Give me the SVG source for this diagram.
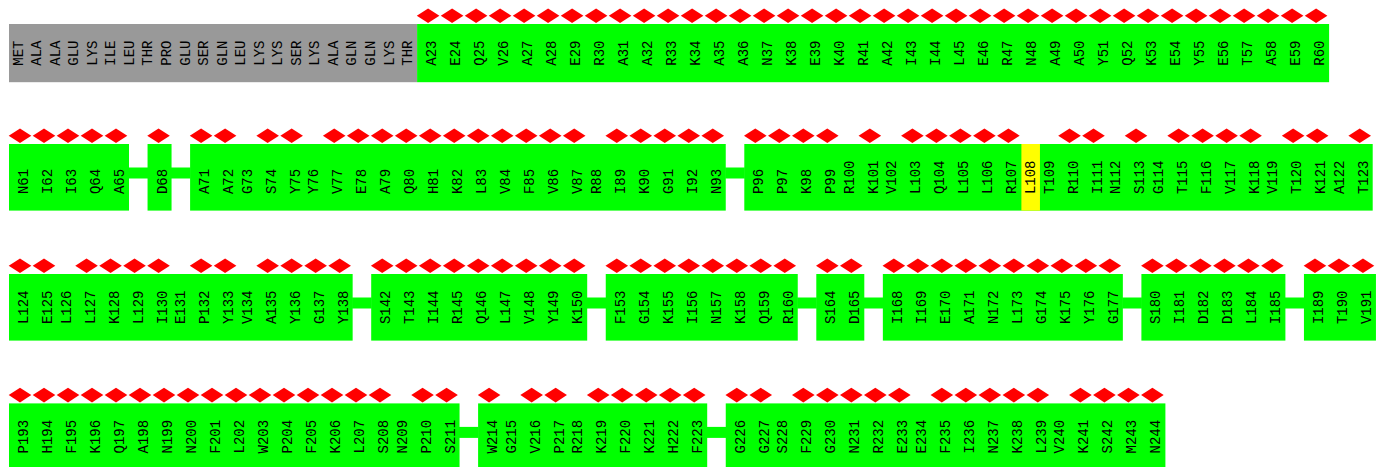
<svg xmlns="http://www.w3.org/2000/svg" xmlns:xlink="http://www.w3.org/1999/xlink" width="1376" height="467" viewBox="0 0 1376 467">
<style>
.lbl{font-family:"Liberation Mono","Courier New",monospace;font-size:14px;fill:#000}
.gry{fill:#999999}.grn{fill:#00ff00}.yel{fill:#ffff00}.bar{fill:#00ff00}
</style>
<defs>
<path id="dm" d="M-11.3 0L0-7.3L11.3 0L0 7.3Z" fill="#ff0000"/>
</defs>
<rect width="1376" height="467" fill="#fff"/>

<g id="connectors">
<rect class="bar" x="128.5" y="167.5" width="19.6" height="11"/>
<rect class="bar" x="171" y="167.5" width="19.6" height="11"/>
<rect class="bar" x="725.2" y="167.5" width="19.6" height="11"/>
<rect class="bar" x="352.1" y="297.5" width="19.6" height="11"/>
<rect class="bar" x="586.7" y="297.5" width="19.6" height="11"/>
<rect class="bar" x="797.2" y="297.5" width="19.6" height="11"/>
<rect class="bar" x="863.8" y="297.5" width="19.6" height="11"/>
<rect class="bar" x="1122.3" y="297.5" width="19.6" height="11"/>
<rect class="bar" x="1284.9" y="297.5" width="19.6" height="11"/>
<rect class="bar" x="459" y="426.9" width="19.6" height="11"/>
<rect class="bar" x="706.7" y="426.9" width="19.6" height="11"/>
</g>

<g id="seg-unmodelled-1-22">
<rect class="gry" x="9" y="24" width="408.1" height="58.2"/>
<g transform="rotate(-90)" class="lbl">
<text x="-65.7" y="22.55">MET</text><text x="-65.7" y="41.1">ALA</text><text x="-65.7" y="59.65">ALA</text><text x="-65.7" y="78.2">GLU</text><text x="-65.7" y="96.75">LYS</text><text x="-65.7" y="115.3">ILE</text><text x="-65.7" y="133.85">LEU</text><text x="-65.7" y="152.4">THR</text><text x="-65.7" y="170.95">PRO</text><text x="-65.7" y="189.5">GLU</text><text x="-65.7" y="208.05">SER</text><text x="-65.7" y="226.6">GLN</text><text x="-65.7" y="245.15">LEU</text><text x="-65.7" y="263.7">LYS</text><text x="-65.7" y="282.25">LYS</text><text x="-65.7" y="300.8">SER</text><text x="-65.7" y="319.35">LYS</text><text x="-65.7" y="337.9">ALA</text><text x="-65.7" y="356.45">GLN</text><text x="-65.7" y="375">GLN</text><text x="-65.7" y="393.55">LYS</text><text x="-65.7" y="412.1">THR</text>
</g>
</g>

<g id="seg-23-60">
<rect class="grn" x="417.1" y="24" width="912" height="58.2"/>
<g transform="rotate(-90)" class="lbl">
<text x="-65.7" y="436.1">A23</text><text x="-65.7" y="460.1">E24</text><text x="-65.7" y="484.1">Q25</text><text x="-65.7" y="508.1">V26</text><text x="-65.7" y="532.1">A27</text><text x="-65.7" y="556.1">A28</text><text x="-65.7" y="580.1">E29</text><text x="-65.7" y="604.1">R30</text><text x="-65.7" y="628.1">A31</text><text x="-65.7" y="652.1">A32</text><text x="-65.7" y="676.1">R33</text><text x="-65.7" y="700.1">K34</text><text x="-65.7" y="724.1">A35</text><text x="-65.7" y="748.1">A36</text><text x="-65.7" y="772.1">N37</text><text x="-65.7" y="796.1">K38</text><text x="-65.7" y="820.1">E39</text><text x="-65.7" y="844.1">K40</text><text x="-65.7" y="868.1">R41</text><text x="-65.7" y="892.1">A42</text><text x="-65.7" y="916.1">I43</text><text x="-65.7" y="940.1">I44</text><text x="-65.7" y="964.1">L45</text><text x="-65.7" y="988.1">E46</text><text x="-65.7" y="1012.1">R47</text><text x="-65.7" y="1036.1">N48</text><text x="-65.7" y="1060.1">A49</text><text x="-65.7" y="1084.1">A50</text><text x="-65.7" y="1108.1">Y51</text><text x="-65.7" y="1132.1">Q52</text><text x="-65.7" y="1156.1">K53</text><text x="-65.7" y="1180.1">E54</text><text x="-65.7" y="1204.1">Y55</text><text x="-65.7" y="1228.1">E56</text><text x="-65.7" y="1252.1">T57</text><text x="-65.7" y="1276.1">A58</text><text x="-65.7" y="1300.1">E59</text><text x="-65.7" y="1324.1">R60</text>
</g>
<use href="#dm" x="428.1" y="15.7"/><use href="#dm" x="452.1" y="15.7"/><use href="#dm" x="476.1" y="15.7"/><use href="#dm" x="500.1" y="15.7"/><use href="#dm" x="524.1" y="15.7"/><use href="#dm" x="548.1" y="15.7"/><use href="#dm" x="572.1" y="15.7"/><use href="#dm" x="596.1" y="15.7"/><use href="#dm" x="620.1" y="15.7"/><use href="#dm" x="644.1" y="15.7"/><use href="#dm" x="668.1" y="15.7"/><use href="#dm" x="692.1" y="15.7"/><use href="#dm" x="716.1" y="15.7"/><use href="#dm" x="740.1" y="15.7"/><use href="#dm" x="764.1" y="15.7"/><use href="#dm" x="788.1" y="15.7"/><use href="#dm" x="812.1" y="15.7"/><use href="#dm" x="836.1" y="15.7"/><use href="#dm" x="860.1" y="15.7"/><use href="#dm" x="884.1" y="15.7"/><use href="#dm" x="908.1" y="15.7"/><use href="#dm" x="932.1" y="15.7"/><use href="#dm" x="956.1" y="15.7"/><use href="#dm" x="980.1" y="15.7"/><use href="#dm" x="1004.1" y="15.7"/><use href="#dm" x="1028.1" y="15.7"/><use href="#dm" x="1052.1" y="15.7"/><use href="#dm" x="1076.1" y="15.7"/><use href="#dm" x="1100.1" y="15.7"/><use href="#dm" x="1124.1" y="15.7"/><use href="#dm" x="1148.1" y="15.7"/><use href="#dm" x="1172.1" y="15.7"/><use href="#dm" x="1196.1" y="15.7"/><use href="#dm" x="1220.1" y="15.7"/><use href="#dm" x="1244.1" y="15.7"/><use href="#dm" x="1268.1" y="15.7"/><use href="#dm" x="1292.1" y="15.7"/><use href="#dm" x="1316.1" y="15.7"/>
</g>

<g id="seg-61-65">
<rect class="grn" x="9" y="144" width="120" height="66.6"/>
<g transform="rotate(-90)" class="lbl">
<text x="-194.1" y="28">N61</text><text x="-194.1" y="52">I62</text><text x="-194.1" y="76">I63</text><text x="-194.1" y="100">Q64</text><text x="-194.1" y="124">A65</text>
</g>
<use href="#dm" x="20" y="135.7"/><use href="#dm" x="44" y="135.7"/><use href="#dm" x="68" y="135.7"/><use href="#dm" x="92" y="135.7"/><use href="#dm" x="116" y="135.7"/>
</g>

<g id="seg-68">
<rect class="grn" x="147.55" y="144" width="24" height="66.6"/>
<g transform="rotate(-90)" class="lbl"><text x="-194.1" y="166.55">D68</text></g>
<use href="#dm" x="158.55" y="135.7"/>
</g>

<g id="seg-71-93">
<rect class="grn" x="190.1" y="144" width="535.65" height="66.6"/>
<g transform="rotate(-90)" class="lbl">
<text x="-194.1" y="209.1">A71</text><text x="-194.1" y="233.1">A72</text><text x="-194.1" y="251.65">G73</text><text x="-194.1" y="275.65">S74</text><text x="-194.1" y="299.65">Y75</text><text x="-194.1" y="318.2">Y76</text><text x="-194.1" y="342.2">V77</text><text x="-194.1" y="366.2">E78</text><text x="-194.1" y="390.2">A79</text><text x="-194.1" y="414.2">Q80</text><text x="-194.1" y="438.2">H81</text><text x="-194.1" y="462.2">K82</text><text x="-194.1" y="486.2">L83</text><text x="-194.1" y="510.2">V84</text><text x="-194.1" y="534.2">F85</text><text x="-194.1" y="558.2">V86</text><text x="-194.1" y="582.2">V87</text><text x="-194.1" y="600.75">R88</text><text x="-194.1" y="624.75">I89</text><text x="-194.1" y="648.75">K90</text><text x="-194.1" y="672.75">G91</text><text x="-194.1" y="696.75">I92</text><text x="-194.1" y="720.75">N93</text>
</g>
<use href="#dm" x="201.1" y="135.7"/><use href="#dm" x="225.1" y="135.7"/><use href="#dm" x="267.65" y="135.7"/><use href="#dm" x="291.65" y="135.7"/><use href="#dm" x="334.2" y="135.7"/><use href="#dm" x="358.2" y="135.7"/><use href="#dm" x="382.2" y="135.7"/><use href="#dm" x="406.2" y="135.7"/><use href="#dm" x="430.2" y="135.7"/><use href="#dm" x="454.2" y="135.7"/><use href="#dm" x="478.2" y="135.7"/><use href="#dm" x="502.2" y="135.7"/><use href="#dm" x="526.2" y="135.7"/><use href="#dm" x="550.2" y="135.7"/><use href="#dm" x="574.2" y="135.7"/><use href="#dm" x="616.75" y="135.7"/><use href="#dm" x="640.75" y="135.7"/><use href="#dm" x="664.75" y="135.7"/><use href="#dm" x="688.75" y="135.7"/><use href="#dm" x="712.75" y="135.7"/>
</g>

<g id="seg-96-123">
<rect class="grn" x="744.3" y="144" width="628.4" height="66.6"/>
<rect class="yel" x="1021.4" y="144" width="18.55" height="66.6"/>
<g transform="rotate(-90)" class="lbl">
<text x="-194.1" y="763.3">P96</text><text x="-194.1" y="787.3">P97</text><text x="-194.1" y="811.3">K98</text><text x="-194.1" y="835.3">P99</text><text x="-194.1" y="853.85">R100</text><text x="-194.1" y="877.85">K101</text><text x="-194.1" y="896.4">V102</text><text x="-194.1" y="920.4">L103</text><text x="-194.1" y="944.4">Q104</text><text x="-194.1" y="968.4">L105</text><text x="-194.1" y="992.4">L106</text><text x="-194.1" y="1016.4">R107</text><text x="-194.1" y="1034.95">L108</text><text x="-194.1" y="1053.5">T109</text><text x="-194.1" y="1077.5">R110</text><text x="-194.1" y="1101.5">I111</text><text x="-194.1" y="1120.05">N112</text><text x="-194.1" y="1144.05">S113</text><text x="-194.1" y="1162.6">G114</text><text x="-194.1" y="1186.6">T115</text><text x="-194.1" y="1210.6">F116</text><text x="-194.1" y="1234.6">V117</text><text x="-194.1" y="1258.6">K118</text><text x="-194.1" y="1277.15">V119</text><text x="-194.1" y="1301.15">T120</text><text x="-194.1" y="1325.15">K121</text><text x="-194.1" y="1343.7">A122</text><text x="-194.1" y="1367.7">T123</text>
</g>
<use href="#dm" x="755.3" y="135.7"/><use href="#dm" x="779.3" y="135.7"/><use href="#dm" x="803.3" y="135.7"/><use href="#dm" x="827.3" y="135.7"/><use href="#dm" x="869.85" y="135.7"/><use href="#dm" x="912.4" y="135.7"/><use href="#dm" x="936.4" y="135.7"/><use href="#dm" x="960.4" y="135.7"/><use href="#dm" x="984.4" y="135.7"/><use href="#dm" x="1008.4" y="135.7"/><use href="#dm" x="1069.5" y="135.7"/><use href="#dm" x="1093.5" y="135.7"/><use href="#dm" x="1136.05" y="135.7"/><use href="#dm" x="1178.6" y="135.7"/><use href="#dm" x="1202.6" y="135.7"/><use href="#dm" x="1226.6" y="135.7"/><use href="#dm" x="1250.6" y="135.7"/><use href="#dm" x="1293.15" y="135.7"/><use href="#dm" x="1317.15" y="135.7"/><use href="#dm" x="1359.7" y="135.7"/>
</g>

<g id="seg-124-138">
<rect class="grn" x="9" y="274" width="343.65" height="66.6"/>
<g transform="rotate(-90)" class="lbl">
<text x="-324.1" y="28">L124</text><text x="-324.1" y="52">E125</text><text x="-324.1" y="70.55">L126</text><text x="-324.1" y="94.55">L127</text><text x="-324.1" y="118.55">K128</text><text x="-324.1" y="142.55">L129</text><text x="-324.1" y="166.55">I130</text><text x="-324.1" y="185.1">E131</text><text x="-324.1" y="209.1">P132</text><text x="-324.1" y="233.1">Y133</text><text x="-324.1" y="251.65">V134</text><text x="-324.1" y="275.65">A135</text><text x="-324.1" y="299.65">Y136</text><text x="-324.1" y="323.65">G137</text><text x="-324.1" y="347.65">Y138</text>
</g>
<use href="#dm" x="20" y="265.7"/><use href="#dm" x="44" y="265.7"/><use href="#dm" x="86.55" y="265.7"/><use href="#dm" x="110.55" y="265.7"/><use href="#dm" x="134.55" y="265.7"/><use href="#dm" x="158.55" y="265.7"/><use href="#dm" x="201.1" y="265.7"/><use href="#dm" x="225.1" y="265.7"/><use href="#dm" x="267.65" y="265.7"/><use href="#dm" x="291.65" y="265.7"/><use href="#dm" x="315.65" y="265.7"/><use href="#dm" x="339.65" y="265.7"/>
</g>

<g id="seg-142-150">
<rect class="grn" x="371.2" y="274" width="216" height="66.6"/>
<g transform="rotate(-90)" class="lbl">
<text x="-324.1" y="390.2">S142</text><text x="-324.1" y="414.2">T143</text><text x="-324.1" y="438.2">I144</text><text x="-324.1" y="462.2">R145</text><text x="-324.1" y="486.2">Q146</text><text x="-324.1" y="510.2">L147</text><text x="-324.1" y="534.2">V148</text><text x="-324.1" y="558.2">Y149</text><text x="-324.1" y="582.2">K150</text>
</g>
<use href="#dm" x="382.2" y="265.7"/><use href="#dm" x="406.2" y="265.7"/><use href="#dm" x="430.2" y="265.7"/><use href="#dm" x="454.2" y="265.7"/><use href="#dm" x="478.2" y="265.7"/><use href="#dm" x="502.2" y="265.7"/><use href="#dm" x="526.2" y="265.7"/><use href="#dm" x="550.2" y="265.7"/><use href="#dm" x="574.2" y="265.7"/>
</g>

<g id="seg-153-160">
<rect class="grn" x="605.75" y="274" width="192" height="66.6"/>
<g transform="rotate(-90)" class="lbl">
<text x="-324.1" y="624.75">F153</text><text x="-324.1" y="648.75">G154</text><text x="-324.1" y="672.75">K155</text><text x="-324.1" y="696.75">I156</text><text x="-324.1" y="720.75">N157</text><text x="-324.1" y="744.75">K158</text><text x="-324.1" y="768.75">Q159</text><text x="-324.1" y="792.75">R160</text>
</g>
<use href="#dm" x="616.75" y="265.7"/><use href="#dm" x="640.75" y="265.7"/><use href="#dm" x="664.75" y="265.7"/><use href="#dm" x="688.75" y="265.7"/><use href="#dm" x="712.75" y="265.7"/><use href="#dm" x="736.75" y="265.7"/><use href="#dm" x="760.75" y="265.7"/><use href="#dm" x="784.75" y="265.7"/>
</g>

<g id="seg-164-165">
<rect class="grn" x="816.3" y="274" width="48" height="66.6"/>
<g transform="rotate(-90)" class="lbl">
<text x="-324.1" y="835.3">S164</text><text x="-324.1" y="859.3">D165</text>
</g>
<use href="#dm" x="827.3" y="265.7"/><use href="#dm" x="851.3" y="265.7"/>
</g>

<g id="seg-168-177">
<rect class="grn" x="882.85" y="274" width="240" height="66.6"/>
<g transform="rotate(-90)" class="lbl">
<text x="-324.1" y="901.85">I168</text><text x="-324.1" y="925.85">I169</text><text x="-324.1" y="949.85">E170</text><text x="-324.1" y="973.85">A171</text><text x="-324.1" y="997.85">N172</text><text x="-324.1" y="1021.85">L173</text><text x="-324.1" y="1045.85">G174</text><text x="-324.1" y="1069.85">K175</text><text x="-324.1" y="1093.85">Y176</text><text x="-324.1" y="1117.85">G177</text>
</g>
<use href="#dm" x="893.85" y="265.7"/><use href="#dm" x="917.85" y="265.7"/><use href="#dm" x="941.85" y="265.7"/><use href="#dm" x="965.85" y="265.7"/><use href="#dm" x="989.85" y="265.7"/><use href="#dm" x="1013.85" y="265.7"/><use href="#dm" x="1037.85" y="265.7"/><use href="#dm" x="1061.85" y="265.7"/><use href="#dm" x="1085.85" y="265.7"/><use href="#dm" x="1109.85" y="265.7"/>
</g>

<g id="seg-180-185">
<rect class="grn" x="1141.4" y="274" width="144" height="66.6"/>
<g transform="rotate(-90)" class="lbl">
<text x="-324.1" y="1160.4">S180</text><text x="-324.1" y="1184.4">I181</text><text x="-324.1" y="1208.4">D182</text><text x="-324.1" y="1232.4">D183</text><text x="-324.1" y="1256.4">L184</text><text x="-324.1" y="1280.4">I185</text>
</g>
<use href="#dm" x="1152.4" y="265.7"/><use href="#dm" x="1176.4" y="265.7"/><use href="#dm" x="1200.4" y="265.7"/><use href="#dm" x="1224.4" y="265.7"/><use href="#dm" x="1248.4" y="265.7"/><use href="#dm" x="1272.4" y="265.7"/>
</g>

<g id="seg-189-191">
<rect class="grn" x="1303.95" y="274" width="72" height="66.6"/>
<g transform="rotate(-90)" class="lbl">
<text x="-324.1" y="1322.95">I189</text><text x="-324.1" y="1346.95">T190</text><text x="-324.1" y="1370.95">V191</text>
</g>
<use href="#dm" x="1314.95" y="265.7"/><use href="#dm" x="1338.95" y="265.7"/><use href="#dm" x="1362.95" y="265.7"/>
</g>

<g id="seg-193-211">
<rect class="grn" x="9" y="403.4" width="450.55" height="66.6"/>
<g transform="rotate(-90)" class="lbl">
<text x="-453.5" y="28">P193</text><text x="-453.5" y="52">H194</text><text x="-453.5" y="76">F195</text><text x="-453.5" y="100">K196</text><text x="-453.5" y="124">Q197</text><text x="-453.5" y="148">A198</text><text x="-453.5" y="172">N199</text><text x="-453.5" y="196">N200</text><text x="-453.5" y="220">F201</text><text x="-453.5" y="244">L202</text><text x="-453.5" y="268">W203</text><text x="-453.5" y="292">P204</text><text x="-453.5" y="316">F205</text><text x="-453.5" y="340">K206</text><text x="-453.5" y="364">L207</text><text x="-453.5" y="388">S208</text><text x="-453.5" y="406.55">N209</text><text x="-453.5" y="430.55">P210</text><text x="-453.5" y="454.55">S211</text>
</g>
<use href="#dm" x="20" y="395.1"/><use href="#dm" x="44" y="395.1"/><use href="#dm" x="68" y="395.1"/><use href="#dm" x="92" y="395.1"/><use href="#dm" x="116" y="395.1"/><use href="#dm" x="140" y="395.1"/><use href="#dm" x="164" y="395.1"/><use href="#dm" x="188" y="395.1"/><use href="#dm" x="212" y="395.1"/><use href="#dm" x="236" y="395.1"/><use href="#dm" x="260" y="395.1"/><use href="#dm" x="284" y="395.1"/><use href="#dm" x="308" y="395.1"/><use href="#dm" x="332" y="395.1"/><use href="#dm" x="356" y="395.1"/><use href="#dm" x="380" y="395.1"/><use href="#dm" x="422.55" y="395.1"/><use href="#dm" x="446.55" y="395.1"/>
</g>

<g id="seg-214-223">
<rect class="grn" x="478.1" y="403.4" width="229.1" height="66.6"/>
<g transform="rotate(-90)" class="lbl">
<text x="-453.5" y="497.1">W214</text><text x="-453.5" y="515.65">G215</text><text x="-453.5" y="539.65">V216</text><text x="-453.5" y="563.65">P217</text><text x="-453.5" y="582.2">R218</text><text x="-453.5" y="606.2">K219</text><text x="-453.5" y="630.2">F220</text><text x="-453.5" y="654.2">K221</text><text x="-453.5" y="678.2">H222</text><text x="-453.5" y="702.2">F223</text>
</g>
<use href="#dm" x="489.1" y="395.1"/><use href="#dm" x="531.65" y="395.1"/><use href="#dm" x="555.65" y="395.1"/><use href="#dm" x="598.2" y="395.1"/><use href="#dm" x="622.2" y="395.1"/><use href="#dm" x="646.2" y="395.1"/><use href="#dm" x="670.2" y="395.1"/><use href="#dm" x="694.2" y="395.1"/>
</g>

<g id="seg-226-244">
<rect class="grn" x="725.75" y="403.4" width="439.65" height="66.6"/>
<g transform="rotate(-90)" class="lbl">
<text x="-453.5" y="744.75">G226</text><text x="-453.5" y="768.75">G227</text><text x="-453.5" y="787.3">S228</text><text x="-453.5" y="811.3">F229</text><text x="-453.5" y="835.3">G230</text><text x="-453.5" y="859.3">N231</text><text x="-453.5" y="883.3">R232</text><text x="-453.5" y="907.3">E233</text><text x="-453.5" y="925.85">E234</text><text x="-453.5" y="949.85">F235</text><text x="-453.5" y="973.85">I236</text><text x="-453.5" y="997.85">N237</text><text x="-453.5" y="1021.85">K238</text><text x="-453.5" y="1045.85">L239</text><text x="-453.5" y="1064.4">V240</text><text x="-453.5" y="1088.4">K241</text><text x="-453.5" y="1112.4">S242</text><text x="-453.5" y="1136.4">M243</text><text x="-453.5" y="1160.4">N244</text>
</g>
<use href="#dm" x="736.75" y="395.1"/><use href="#dm" x="760.75" y="395.1"/><use href="#dm" x="803.3" y="395.1"/><use href="#dm" x="827.3" y="395.1"/><use href="#dm" x="851.3" y="395.1"/><use href="#dm" x="875.3" y="395.1"/><use href="#dm" x="899.3" y="395.1"/><use href="#dm" x="941.85" y="395.1"/><use href="#dm" x="965.85" y="395.1"/><use href="#dm" x="989.85" y="395.1"/><use href="#dm" x="1013.85" y="395.1"/><use href="#dm" x="1037.85" y="395.1"/><use href="#dm" x="1080.4" y="395.1"/><use href="#dm" x="1104.4" y="395.1"/><use href="#dm" x="1128.4" y="395.1"/><use href="#dm" x="1152.4" y="395.1"/>
</g>
</svg>
